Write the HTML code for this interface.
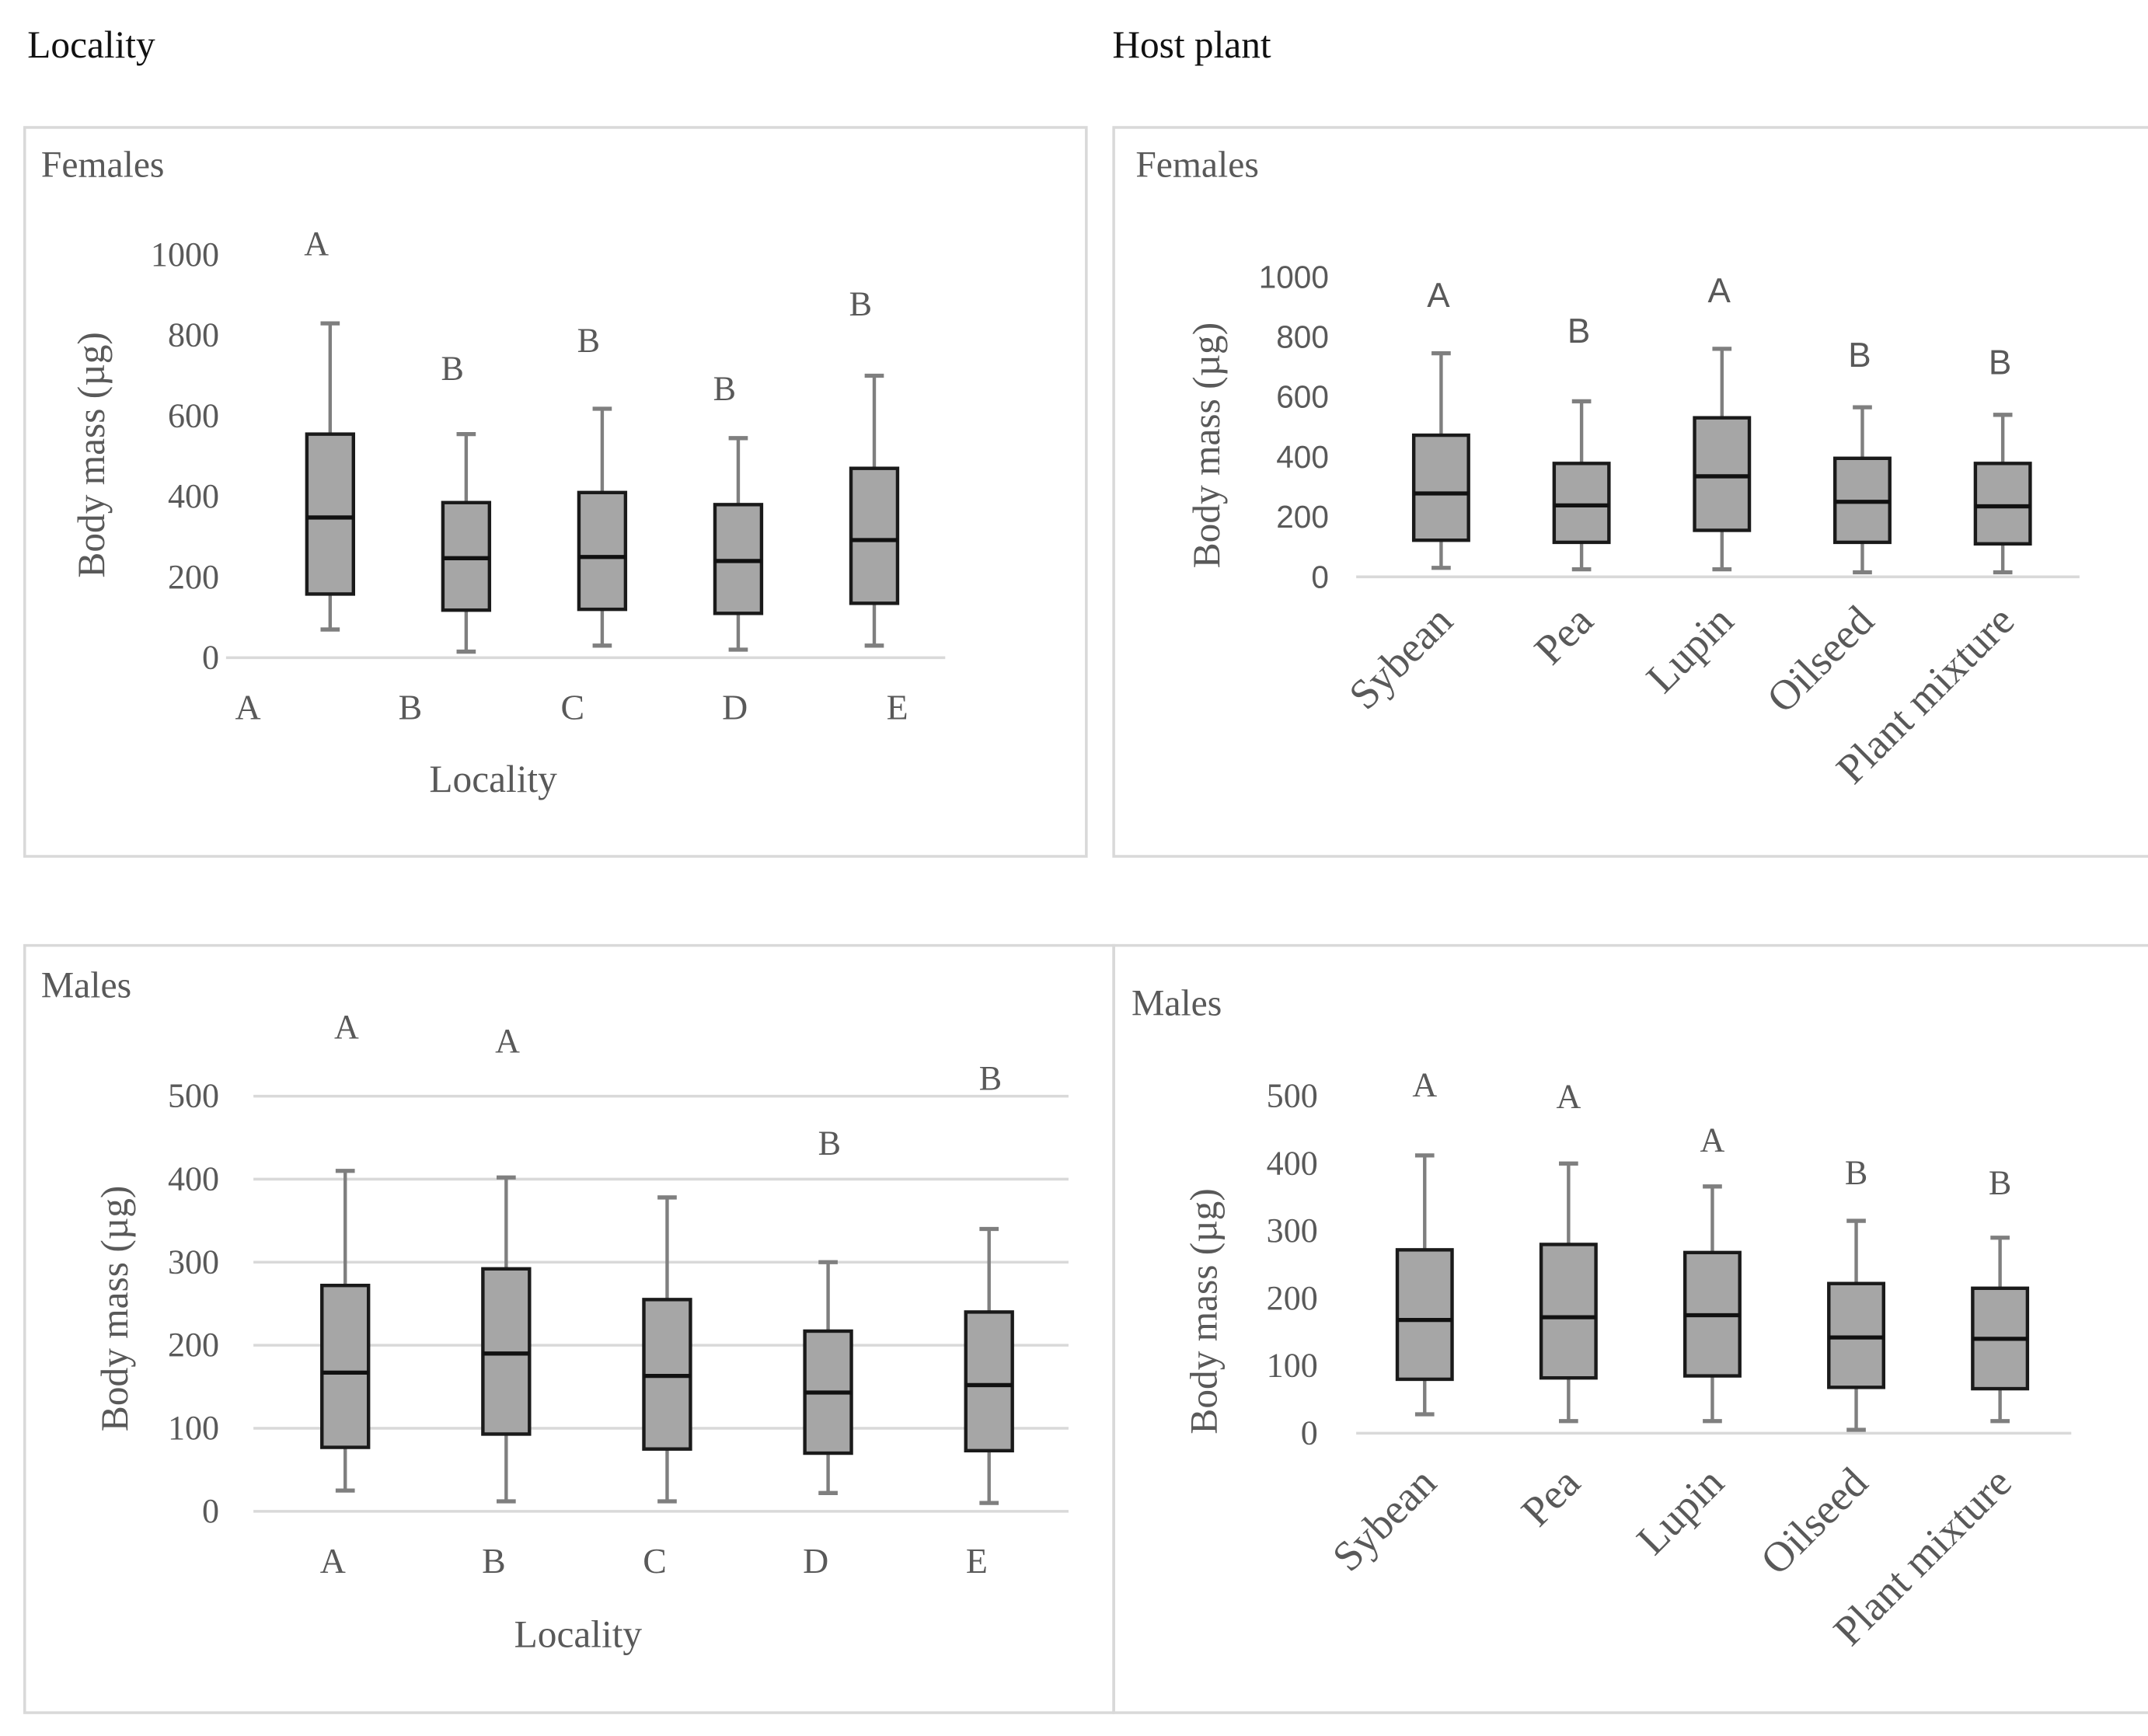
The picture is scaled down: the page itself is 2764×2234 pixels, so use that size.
<!DOCTYPE html>
<html><head><meta charset="utf-8">
<style>html,body{margin:0;padding:0;background:#fff}svg{display:block}</style>
</head><body>
<svg id="fig" xmlns="http://www.w3.org/2000/svg" width="2764" height="2234" viewBox="0 0 1568 1267" preserveAspectRatio="none">
<rect width="1568" height="1267" fill="#fff"/>
<text x="20" y="42" font-family="Liberation Serif, serif" font-size="28" fill="#111">Locality</text>
<text x="812" y="42" font-family="Liberation Serif, serif" font-size="28" fill="#111">Host plant</text>
<g id="charts"></g>
</svg>
<script>
// ---- Data ----
const locCats = ["A","B","C","D","E"];
const plantCats = ["Sybean","Pea","Lupin","Oilseed","Plant mixture"];
const fLocMin = [70,15,30,20,30];
const fLocQ1 = [158,118,120,110,135];
const fLocMed = [348,247,250,240,292];
const fLocQ3 = [555,385,410,380,470];
const fLocMax = [830,555,618,545,700];
const fLocLetters = ["A","B","B","B","B"];
const fLocLetterVal = [1000,690,760,640,850];
const fPlMin = [30,25,25,15,15];
const fPlQ1 = [122,115,155,115,110];
const fPlMed = [278,238,335,250,235];
const fPlQ3 = [472,378,530,395,378];
const fPlMax = [745,585,760,565,540];
const fPlLetters = ["A","B","A","B","B"];
const fPlLetterVal = [900,780,915,700,675];
const mLocMin = [25,12,12,22,10];
const mLocQ1 = [77,93,75,70,73];
const mLocMed = [167,190,163,143,152];
const mLocQ3 = [272,292,255,217,240];
const mLocMax = [410,402,378,300,340];
const mLocLetters = ["A","A","","B","B"];
const mLocLetterVal = [570,553,0,430,508];
const mPlMin = [28,18,18,5,18];
const mPlQ1 = [80,82,85,68,66];
const mPlMed = [168,172,175,142,140];
const mPlQ3 = [272,280,268,222,215];
const mPlMax = [412,400,366,315,290];
const mPlLetters = ["A","A","A","B","B"];
const mPlLetterVal = [500,483,418,370,355];
const fTicks = [0,200,400,600,800,1000];
const mTicks = [0,100,200,300,400,500];

const NS = "http://www.w3.org/2000/svg";
const root = document.getElementById("charts");
function mk(tag, attrs, parent, txt){
  const e = document.createElementNS(NS, tag);
  for (const k in attrs) e.setAttribute(k, attrs[k]);
  if (txt !== undefined) e.textContent = txt;
  (parent||root).appendChild(e);
  return e;
}
const SERIF = "Liberation Serif, serif", SANS = "Liberation Sans, sans-serif";

function panel(cfg){
  const g = mk("g", {});
  
  
  const fr = mk("rect", {x:cfg.bx, y:cfg.by, width:cfg.bw, height:cfg.bh, fill:"none", stroke:"#d9d9d9", "stroke-width":2}, g);
  
  
  const t = mk("text", {x:cfg.tx, y:cfg.ty, "font-family":SERIF, "font-size":27, fill:"#595959"}, g, cfg.title);
  
  
  const yS = v => cfg.y0 - (v - 0) * (cfg.y0 - cfg.yTop) / cfg.yMax;
  cfg.ticks.forEach(v => {
    if (cfg.grid || v === 0) {
      const l = mk("line", {x1:cfg.ax1, x2:cfg.ax2, y1:yS(v), y2:yS(v), stroke:"#d9d9d9", "stroke-width":2}, g);
      
      
    }
    const tl = mk("text", {x:cfg.tickX, y:yS(v)+8, "text-anchor":"end", "font-family":cfg.tickFont, "font-size":cfg.tickSize, fill:"#595959"}, g, v);
    
    
  });
  const yt = mk("text", {transform:`translate(${cfg.ytX},${cfg.ytY}) rotate(-90)`, "text-anchor":"middle", "font-family":SERIF, "font-size":28, fill:"#595959"}, g, "Body mass (µg)");
  
  
  if (cfg.xTitle) {
    const xt = mk("text", {x:cfg.xTitleX, y:cfg.xTitleY, "text-anchor":"middle", "font-family":SERIF, "font-size":28, fill:"#595959"}, g, cfg.xTitle);
    
    
  }
  const hw = cfg.boxW/2;
  cfg.cats.forEach((c,i) => {
    const x = cfg.x0 + i*cfg.dx;
    const bg = mk("g", {}, g);
    
    
    mk("line", {x1:x, x2:x, y1:yS(cfg.mx[i]), y2:yS(cfg.q3[i]), stroke:"#7f7f7f", "stroke-width":2.5}, bg);
    mk("line", {x1:x, x2:x, y1:yS(cfg.q1[i]), y2:yS(cfg.mn[i]), stroke:"#7f7f7f", "stroke-width":2.5}, bg);
    mk("line", {x1:x-7, x2:x+7, y1:yS(cfg.mx[i]), y2:yS(cfg.mx[i]), stroke:"#7f7f7f", "stroke-width":3}, bg);
    mk("line", {x1:x-7, x2:x+7, y1:yS(cfg.mn[i]), y2:yS(cfg.mn[i]), stroke:"#7f7f7f", "stroke-width":3}, bg);
    mk("rect", {x:x-hw, y:yS(cfg.q3[i]), width:cfg.boxW, height:yS(cfg.q1[i])-yS(cfg.q3[i]), fill:"#a6a6a6", stroke:"#1a1a1a", "stroke-width":2.5}, bg);
    mk("line", {x1:x-hw, x2:x+hw, y1:yS(cfg.md[i]), y2:yS(cfg.md[i]), stroke:"#111", "stroke-width":3}, bg);
    if (cfg.letters[i]) {
      const lt = mk("text", {x:x + (cfg.letterDx||0), y:yS(cfg.letterVal[i]), "text-anchor":"middle", "font-family":cfg.letterFont, "font-size":25, fill:"#595959"}, g, cfg.letters[i]);
      
      
    }
    let cl;
    if (cfg.rotate) {
      const lx = x + 10, ly = cfg.catY;
      cl = mk("text", {transform:`translate(${lx},${ly}) rotate(-45)`, "text-anchor":"end", "font-family":SERIF, "font-size":31, fill:"#595959"}, g, c);
    } else {
      const lx = cfg.labX0 !== undefined ? cfg.labX0 + i*cfg.labDx : x + (cfg.catDx||0);
      cl = mk("text", {x:lx, y:cfg.catY, "text-anchor":"middle", "font-family":SERIF, "font-size":26, fill:"#595959"}, g, c);
    }
    
    
  });
}

panel({name:"females-locality-chart", bx:18,by:93,bw:775,bh:532, title:"Females", tx:30, ty:129,
  y0:480, yTop:186, yMax:1000, ticks:fTicks, grid:false, ax1:165, ax2:690, tickX:160, tickFont:SERIF, tickSize:25,
  ytX:76, ytY:332, xTitle:"Locality", xTitleX:360, xTitleY:578,
  cats:locCats, x0:241, dx:99.3, boxW:34, catY:525, labX0:181, labDx:118.5,
  mn:fLocMin, q1:fLocQ1, md:fLocMed, q3:fLocQ3, mx:fLocMax, letters:fLocLetters, letterVal:fLocLetterVal, letterFont:SERIF, letterDx:-10});

panel({name:"females-host-plant-chart", bx:813,by:93,bw:760,bh:532, title:"Females", tx:829, ty:129,
  y0:421, yTop:202, yMax:1000, ticks:fTicks, grid:false, ax1:990, ax2:1518, tickX:970, tickFont:SANS, tickSize:23,
  ytX:890, ytY:325, cats:plantCats, x0:1052, dx:102.5, boxW:40, catY:455, rotate:true,
  mn:fPlMin, q1:fPlQ1, md:fPlMed, q3:fPlQ3, mx:fPlMax, letters:fPlLetters, letterVal:fPlLetterVal, letterFont:SANS, letterDx:-2});

panel({name:"males-locality-chart", bx:18,by:690,bw:795,bh:560, title:"Males", tx:30, ty:728,
  y0:1103, yTop:800, yMax:500, ticks:mTicks, grid:true, ax1:185, ax2:780, tickX:160, tickFont:SERIF, tickSize:25,
  ytX:93, ytY:955, xTitle:"Locality", xTitleX:422, xTitleY:1202,
  cats:locCats, x0:252, dx:117.5, boxW:34, catY:1148, catDx:-9,
  mn:mLocMin, q1:mLocQ1, md:mLocMed, q3:mLocQ3, mx:mLocMax, letters:mLocLetters, letterVal:mLocLetterVal, letterFont:SERIF, letterDx:1});

panel({name:"males-host-plant-chart", bx:813,by:690,bw:760,bh:560, title:"Males", tx:826, ty:741,
  y0:1046, yTop:800, yMax:500, ticks:mTicks, grid:false, ax1:990, ax2:1512, tickX:962, tickFont:SERIF, tickSize:25,
  ytX:888, ytY:957, cats:plantCats, x0:1040, dx:105, boxW:40, catY:1084, rotate:true,
  mn:mPlMin, q1:mPlQ1, md:mPlMed, q3:mPlQ3, mx:mPlMax, letters:mPlLetters, letterVal:mPlLetterVal, letterFont:SERIF, letterDx:0});
</script>
</body></html>
